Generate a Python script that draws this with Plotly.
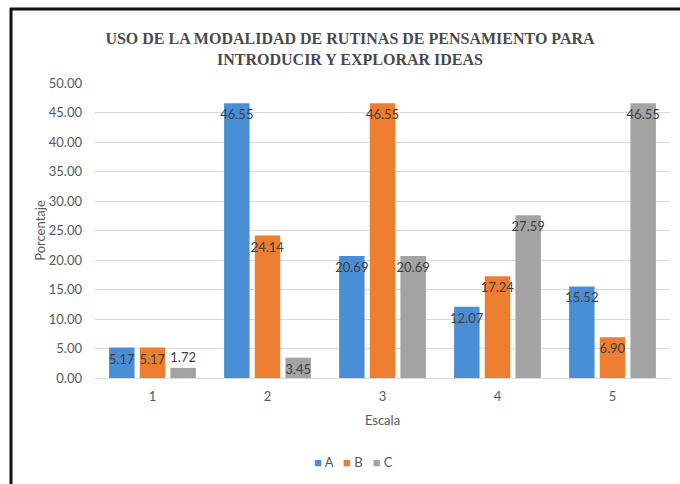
import plotly.graph_objects as go

categories = ["1", "2", "3", "4", "5"]
series_names = ["A", "B", "C"]
values_a = [5.17, 46.55, 20.69, 12.07, 15.52]
values_b = [5.17, 24.14, 46.55, 17.24, 6.90]
values_c = [1.72, 3.45, 20.69, 27.59, 46.55]
y_ticks = [0, 5, 10, 15, 20, 25, 30, 35, 40, 45, 50]
y_tick_labels = [f"{v:.2f}" for v in y_ticks]

colors = ["#4a8ed6", "#ed7d31", "#a3a3a3"]
font_sans = "Lato"

fig = go.Figure()
for name, vals, col in zip(series_names, [values_a, values_b, values_c], colors):
    fig.add_trace(go.Bar(
        x=categories, y=vals, name=name,
        marker=dict(color=col, line=dict(width=0)),
        texttemplate="%{y:.2f}",
        textposition=["outside" if v < 3 else "inside" for v in vals],
        insidetextanchor="end",
        textangle=0, constraintext="none",
        textfont=dict(family=font_sans, size=13, color="#404040"),
        cliponaxis=False, showlegend=False,
    ))

W, H = 680, 484
L, R, T, B = 95, W - 670, 83, H - 378
pw, ph = W - L - R, H - T - B

def px(x):
    return (x - L) / pw

def py(y):
    return (H - B - y) / ph

legend_text = "&nbsp;&nbsp;&nbsp;".join(
    f"<span style='color:{c}'>■</span> {n}" for n, c in zip(series_names, colors)
)

fig.update_layout(
    width=W, height=H,
    margin=dict(l=L, r=R, t=T, b=B, autoexpand=False),
    paper_bgcolor="white", plot_bgcolor="white",
    barmode="group", bargap=0.2, bargroupgap=0.17,
    uniformtext=dict(minsize=13, mode="show"),
    title=dict(
        text="<b>USO DE LA MODALIDAD DE RUTINAS DE PENSAMIENTO PARA<br>INTRODUCIR Y EXPLORAR IDEAS</b>",
        font=dict(family="Liberation Serif", size=16, color="#4a4a4a"),
        x=350 / W, xanchor="center", xref="container",
        y=1 - 44 / H, yanchor="middle", yref="container",
    ),
    xaxis=dict(
        title=dict(text="Escala", font=dict(family=font_sans, size=13, color="#595959"), standoff=13),
        tickfont=dict(family=font_sans, size=13, color="#595959"),
        showgrid=False, showline=True, linecolor="#d9d9d9", linewidth=1,
        ticks="", ticklabelstandoff=6,
    ),
    yaxis=dict(
        title=dict(text="Porcentaje", font=dict(family=font_sans, size=13, color="#595959"), standoff=0),
        range=[0, 50], tickvals=y_ticks, ticktext=y_tick_labels,
        tickfont=dict(family=font_sans, size=13, color="#595959"),
        showgrid=True, gridcolor="#d9d9d9", gridwidth=1,
        zeroline=False, showline=False, ticks="", ticklabelstandoff=12,
    ),
    showlegend=False,
    annotations=[dict(
        text=legend_text, xref="paper", yref="paper", x=px(353), y=py(462),
        xanchor="center", yanchor="middle", showarrow=False,
        font=dict(family=font_sans, size=13, color="#595959"),
    )],
    shapes=[
        dict(type="line", xref="paper", yref="paper", x0=px(10), x1=px(680), y0=py(9), y1=py(9),
             line=dict(color="#111111", width=3)),
        dict(type="line", xref="paper", yref="paper", x0=px(11), x1=px(11), y0=py(8), y1=py(484),
             line=dict(color="#111111", width=3)),
    ],
)

fig.write_html(
    "out.html",
    config={"displayModeBar": False},
    post_script="document.body.style.margin='0';document.body.style.overflow='hidden';",
)
